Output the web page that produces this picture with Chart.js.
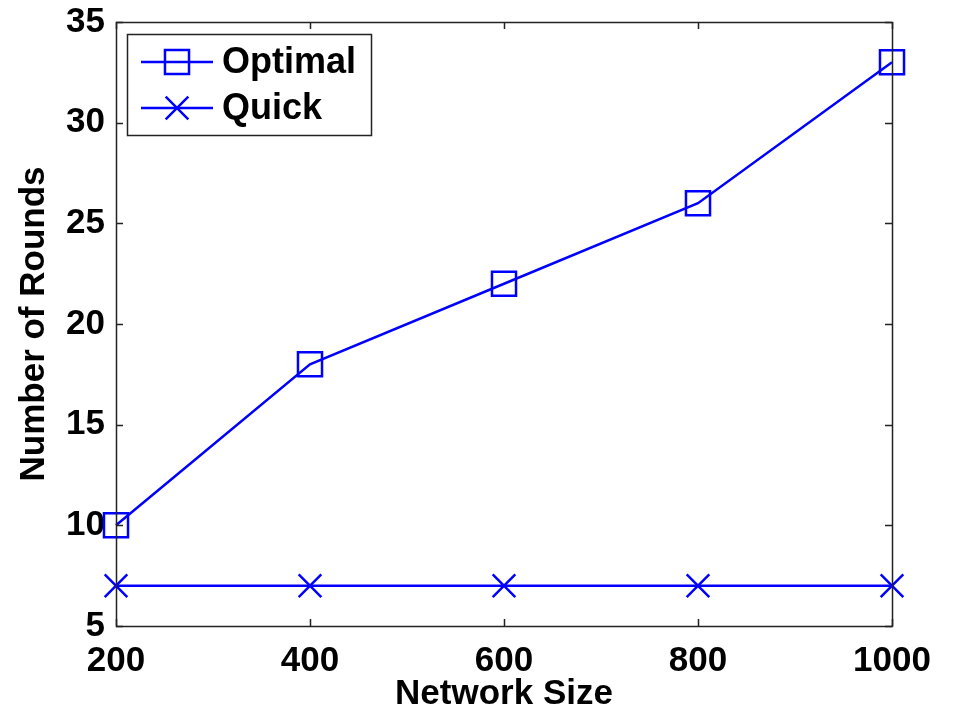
<!DOCTYPE html>
<html>
<head>
<meta charset="utf-8">
<script src="https://cdn.jsdelivr.net/npm/chart.js@4/dist/chart.umd.min.js"></script>
<style>
  html, body { margin: 0; padding: 0; background: #fff; }
  #wrap { width: 957px; height: 715px; }
</style>
</head>
<body>
<div id="wrap"><canvas id="roundsChart"></canvas></div>
<script>
// Data
const networkSizes = [200, 400, 600, 800, 1000];
const optimalRounds = [10, 18, 22, 26, 33];
const quickRounds = [7, 7, 7, 7, 7];
const seriesNames = ['Optimal', 'Quick'];

const BLUE = '#0000ff';
const FONT = "'Liberation Sans', Arial, sans-serif";

// Inward ticks on all four sides + black frame
const boxPlugin = {
    id: 'boxTicks',
    afterDraw(chart) {
        const { ctx, chartArea: a, scales } = chart;
        const len = 7;
        ctx.save();
        ctx.strokeStyle = '#222';
        ctx.lineWidth = 1.5;
        scales.x.ticks.forEach((t, i) => {
            const px = Math.round(scales.x.getPixelForTick(i)) + 0.5;
            ctx.beginPath();
            ctx.moveTo(px, a.bottom); ctx.lineTo(px, a.bottom - len);
            ctx.moveTo(px, a.top); ctx.lineTo(px, a.top + len);
            ctx.stroke();
        });
        scales.y.ticks.forEach((t, i) => {
            const py = Math.round(scales.y.getPixelForTick(i)) + 0.5;
            ctx.beginPath();
            ctx.moveTo(a.left, py); ctx.lineTo(a.left + len, py);
            ctx.moveTo(a.right, py); ctx.lineTo(a.right - len, py);
            ctx.stroke();
        });
        ctx.strokeRect(Math.round(a.left) + 0.5, Math.round(a.top) + 0.5,
            Math.round(a.right - a.left), Math.round(a.bottom - a.top));
        ctx.restore();
    }
};

// Legend box drawn inside the plot, upper left
const legendPlugin = {
    id: 'innerLegend',
    afterDraw(chart) {
        const { ctx, chartArea: a } = chart;
        const x0 = a.left + 11, y0 = a.top + 12, w = 244, h = 101;
        ctx.save();
        ctx.fillStyle = '#fff';
        ctx.fillRect(x0, y0, w, h);
        ctx.strokeStyle = '#222';
        ctx.lineWidth = 1.5;
        ctx.strokeRect(x0 + 0.5, y0 + 0.5, w, h);
        chart.data.datasets.forEach((ds, i) => {
            const cy = y0 + 28 + i * 46;
            ctx.strokeStyle = ds.borderColor;
            ctx.lineWidth = ds.borderWidth;
            ctx.beginPath();
            ctx.moveTo(x0 + 14, cy); ctx.lineTo(x0 + 86, cy);
            ctx.stroke();
            ctx.fillStyle = 'rgba(0,0,0,0)';
            Chart.helpers.drawPoint(ctx, {
                pointStyle: ds.pointStyle,
                radius: ds.pointRadius,
                rotation: 0,
                borderWidth: ds.pointBorderWidth
            }, x0 + 50, cy);
            ctx.fillStyle = '#000';
            ctx.font = 'bold 36px ' + FONT;
            ctx.textBaseline = 'middle';
            ctx.fillText(ds.label, x0 + 95, cy + 1);
        });
        ctx.restore();
    }
};

function makeDataset(label, values, style, radius) {
    return {
        label: label,
        data: networkSizes.map((x, i) => ({ x: x, y: values[i] })),
        borderColor: BLUE,
        backgroundColor: 'transparent',
        borderWidth: 2.5,
        pointStyle: style,
        pointRadius: radius,
        pointBorderWidth: 2.5,
        pointBorderColor: BLUE,
        pointBackgroundColor: 'transparent',
        tension: 0,
        clip: false
    };
}

const canvas = document.getElementById('roundsChart');
new Chart(canvas, {
    type: 'line',
    data: {
        datasets: [
            makeDataset(seriesNames[0], optimalRounds, 'rect', 17),
            makeDataset(seriesNames[1], quickRounds, 'crossRot', 16)
        ]
    },
    options: {
        responsive: true,
        maintainAspectRatio: false,
        animation: false,
        layout: { padding: { top: 22, right: 65, left: 0, bottom: 0 } },
        plugins: {
            legend: { display: false },
            tooltip: { enabled: false }
        },
        scales: {
            x: {
                type: 'linear',
                min: 200,
                max: 1000,
                afterFit: (s) => { s.height = 89; s.paddingLeft = 0; s.paddingRight = 0; },
                ticks: {
                    stepSize: 200,
                    padding: 14,
                    color: '#000',
                    callback: (v) => String(v),
                    font: { family: FONT, size: 35, weight: 'bold' },
                    maxRotation: 0
                },
                grid: { display: false, drawTicks: false },
                border: { display: false },
                title: {
                    display: true,
                    text: 'Network Size',
                    color: '#000',
                    padding: 0,
                    font: { family: FONT, size: 35, weight: 'bold' }
                }
            },
            y: {
                min: 5,
                max: 35,
                afterFit: (s) => { s.width = 116; s.paddingTop = 0; s.paddingBottom = 0; },
                ticks: {
                    stepSize: 5,
                    padding: 11,
                    color: '#000',
                    font: { family: FONT, size: 35, weight: 'bold' }
                },
                grid: { display: false, drawTicks: false },
                border: { display: false },
                title: {
                    display: true,
                    text: 'Number of Rounds',
                    color: '#000',
                    padding: { top: 13, bottom: 0 },
                    font: { family: FONT, size: 35, weight: 'bold' }
                }
            }
        }
    },
    plugins: [boxPlugin, legendPlugin]
});
</script>
</body>
</html>
